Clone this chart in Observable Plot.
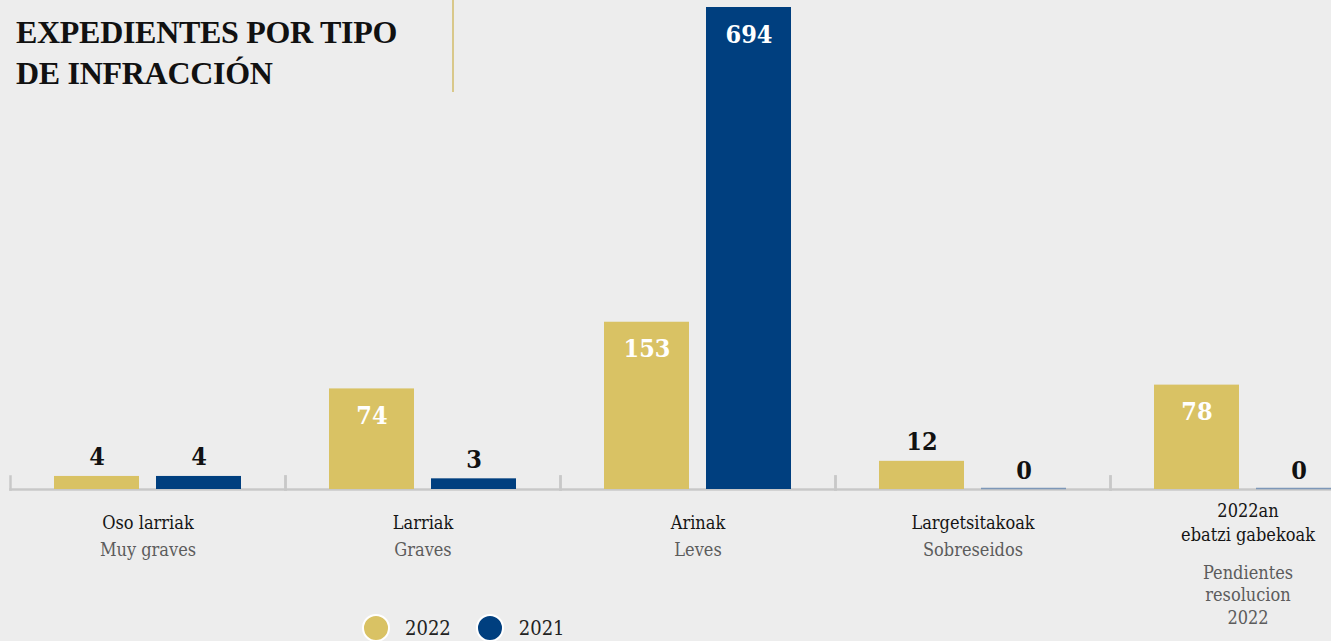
<!DOCTYPE html>
<html><head><meta charset="utf-8">
<script src="https://cdn.jsdelivr.net/npm/d3@7"></script>
<script src="https://cdn.jsdelivr.net/npm/@observablehq/plot@0.6"></script>
<style>
html,body{margin:0;padding:0;background:#ededed;overflow:hidden;width:1331px;height:641px}
#wrap{position:relative;width:1331px;height:641px}
#chart svg{display:block;background:#ededed;}
#title{position:absolute;left:16px;top:12px;font-family:"Liberation Serif",serif;font-weight:bold;font-size:32px;line-height:41px;color:#111;margin:0;letter-spacing:-0.3px}
#vline{position:absolute;left:452px;top:0;width:2px;height:92px;background:#d9c88a}
#legend{position:absolute;left:362px;top:615px;height:26px;display:flex;align-items:center;font-family:"DejaVu Serif Condensed","DejaVu Serif",serif;font-size:20px;color:#222}
.sw{width:28px;height:28px;border-radius:50%;box-sizing:border-box;border:2px solid #fff;margin-right:15px}
.lab{margin-right:25px}
</style></head>
<body><div id="wrap"><div id="chart"></div>
<h1 id="title">EXPEDIENTES POR TIPO<br>DE INFRACCIÓN</h1>
<div id="vline"></div>
<div id="legend"></div></div>
<script>
const categoriesEu = ["Oso larriak", "Larriak", "Arinak", "Largetsitakoak", "2022an\nebatzi gabekoak"];
const categoriesEs = ["Muy graves", "Graves", "Leves", "Sobreseidos", "Pendientes\nresolucion\n2022"];
const seriesNames = ["2022", "2021"];
const values2022 = [4, 74, 153, 12, 78];
const values2021 = [4, 3, 694, 0, 0];
const colors = ["#d9c264", "#003f7f"];

const rows = [];
categoriesEu.forEach((c, i) => {
  rows.push({cat: c, series: seriesNames[0], value: values2022[i]});
  rows.push({cat: c, series: seriesNames[1], value: values2021[i]});
});
const labels = categoriesEu.map((c, i) => ({
  cat: c,
  eu: c,
  es: "\n".repeat(c.split("\n").length - 1) + categoriesEs[i]
}));

const numFont = "DejaVu Serif Condensed, DejaVu Serif, serif";
const chart = Plot.plot({
  width: 1331,
  height: 615,
  marginTop: 7,
  marginBottom: 126,
  marginLeft: 10,
  marginRight: -54,
  style: {background: "#ededed", overflow: "visible"},
  fx: {domain: categoriesEu, padding: 0, axis: null},
  x: {domain: seriesNames, paddingInner: 0.168, paddingOuter: 0.43, axis: null},
  y: {type: "pow", exponent: 0.7, domain: [0, 694], axis: null},
  color: {domain: seriesNames, range: colors},
  marks: [
    Plot.frame({anchor: "bottom", stroke: "#c8c8c8", strokeWidth: 2.5}),
    Plot.frame({anchor: "left", stroke: "#c8c8c8", strokeWidth: 2.5, insetTop: 469}),
    Plot.frame({anchor: "right", stroke: "#c8c8c8", strokeWidth: 2.5, insetTop: 469}),
    Plot.barY(rows, {fx: "cat", x: "series", y: "value", fill: "series"}),
    Plot.tickY(rows.filter(d => d.value === 0), {fx: "cat", x: "series", y: "value", stroke: "#7d97b8", strokeWidth: 1.5, dy: -1}),
    Plot.text(rows.filter(d => d.value >= 50), {fx: "cat", x: "series", y: "value", text: d => String(d.value), fill: "#fff", fontFamily: numFont, fontWeight: "bold", fontSize: 25, dy: 27}),
    Plot.text(rows.filter(d => d.value < 50), {fx: "cat", x: "series", y: "value", text: d => String(d.value), fill: "#111", fontFamily: numFont, fontWeight: "bold", fontSize: 25, dy: -19}),
    Plot.text(labels, {fx: "cat", text: "eu", frameAnchor: "bottom", lineAnchor: "middle", dy: 32, lineHeight: 1.3, fill: "#151515", fontFamily: numFont, fontSize: 18}),
    Plot.text(labels, {fx: "cat", text: "es", frameAnchor: "bottom", lineAnchor: "top", dy: 51, lineHeight: 1.25, fill: "#5c5c5c", fontFamily: numFont, fontSize: 18})
  ]
});
document.getElementById("chart").appendChild(chart);

const leg = document.getElementById("legend");
seriesNames.forEach((s, i) => {
  const sw = document.createElement("div");
  sw.className = "sw"; sw.style.background = colors[i];
  const t = document.createElement("span");
  t.className = "lab"; t.textContent = s;
  leg.appendChild(sw); leg.appendChild(t);
});
</script></body></html>
